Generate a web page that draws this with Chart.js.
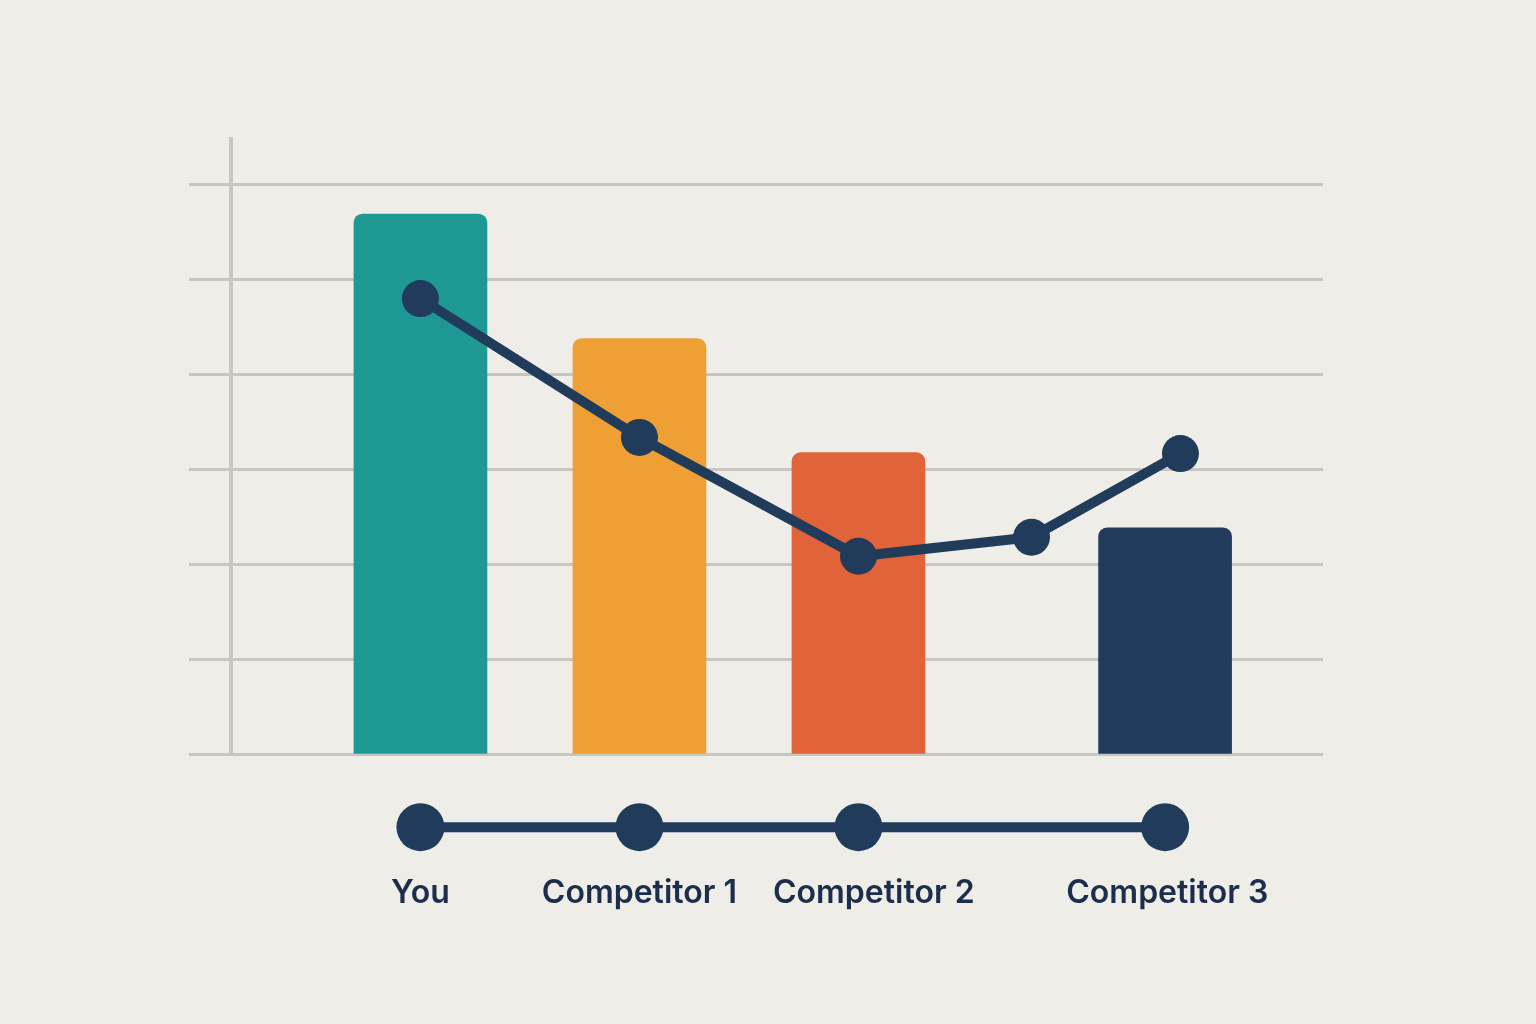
<!DOCTYPE html>
<html>
<head>
<meta charset="utf-8">
<script src="https://cdn.jsdelivr.net/npm/chart.js@4/dist/chart.umd.min.js"></script>
<style>
  html, body { margin: 0; padding: 0; background: #eeede8; }
  canvas { display: block; }
</style>
</head>
<body>
<canvas id="myChart" width="1536" height="1024"></canvas>
<script>
// categories and where they sit on the x axis
const categories = ['You', 'Competitor 1', 'Competitor 2', 'Competitor 3']
const categoryX = [0, 1, 2, 3.4]
// label positions (the labels are not quite centred under the dots)
const labelX = [0, 1, 2.07, 3.41]

// bar heights
const barValues = [5.69, 4.38, 3.18, 2.39]
const barColors = ['#1e9892', '#eea034', '#e06339', '#213b5b']

// trend line (5 points)
const trendX = [0, 1, 2, 2.79, 3.47]
const trendY = [4.8, 3.34, 2.09, 2.29, 3.17]

// timeline row under the chart
const timelineY = -0.76

// gridlines
const gridValues = [0, 1, 2, 3, 4, 5, 6]
const yMin = -1.2
const yMax = 6.5
const xMin = -0.865
const xMax = 4.121

const navy = '#213b5b'

const ctx = document.getElementById('myChart').getContext('2d')

const data = {
  datasets: [
    {
      type: 'line',
      data: trendX.map((x, i) => ({x: x, y: trendY[i]})),
      borderColor: navy,
      borderWidth: 10,
      backgroundColor: navy,
      pointRadius: 18.5,
      pointBorderWidth: 0,
      tension: 0,
      clip: false,
      order: 0
    },
    {
      type: 'line',
      data: categoryX.map((x) => ({x: x, y: timelineY})),
      borderColor: navy,
      borderWidth: 10,
      backgroundColor: navy,
      pointRadius: 24,
      pointBorderWidth: 0,
      clip: false,
      order: 0
    },
    {
      type: 'bar',
      data: categoryX.map((x, i) => ({x: x, y: barValues[i]})),
      backgroundColor: barColors,
      barThickness: 133,
      borderRadius: {topLeft: 9, topRight: 9, bottomLeft: 0, bottomRight: 0},
      borderSkipped: 'start',
      order: 1
    },
    {
      // vertical axis line
      type: 'line',
      data: [{x: xMin, y: 0}, {x: xMin, y: yMax}],
      borderColor: '#c7c6c1',
      borderWidth: 4,
      pointRadius: 0,
      clip: false,
      order: 2
    }
  ]
}

const config = {
  type: 'bar',
  data: data,
  options: {
    responsive: false,
    animation: false,
    layout: {
      padding: {left: 189, right: 213, top: 137, bottom: 95}
    },
    plugins: {
      legend: {display: false},
      tooltip: {enabled: false}
    },
    scales: {
      x: {
        type: 'linear',
        min: xMin,
        max: xMax,
        offset: false,
        afterBuildTicks: (axis) => {
          axis.ticks = labelX.map((v) => ({value: v}))
        },
        afterFit: (axis) => {
          axis.paddingLeft = 0
          axis.paddingRight = 0
          axis.height = 60
        },
        grid: {display: false, offset: false},
        border: {display: false},
        ticks: {
          autoSkip: false,
          maxRotation: 0,
          padding: -3,
          color: '#1c2e4c',
          font: {family: 'Inter', size: 32, weight: '600'},
          callback: (value) => categories[labelX.indexOf(value)]
        }
      },
      y: {
        type: 'linear',
        min: yMin,
        max: yMax,
        afterBuildTicks: (axis) => {
          axis.ticks = gridValues.map((v) => ({value: v}))
        },
        afterFit: (axis) => {
          axis.width = 42
        },
        grid: {
          color: '#c7c6c1',
          lineWidth: 3,
          drawTicks: true,
          tickLength: 42,
          tickColor: '#c7c6c1',
          tickWidth: 3
        },
        border: {display: false},
        ticks: {display: false}
      }
    }
  }
}

const myChart = new Chart(ctx, config)
</script>
</body>
</html>
